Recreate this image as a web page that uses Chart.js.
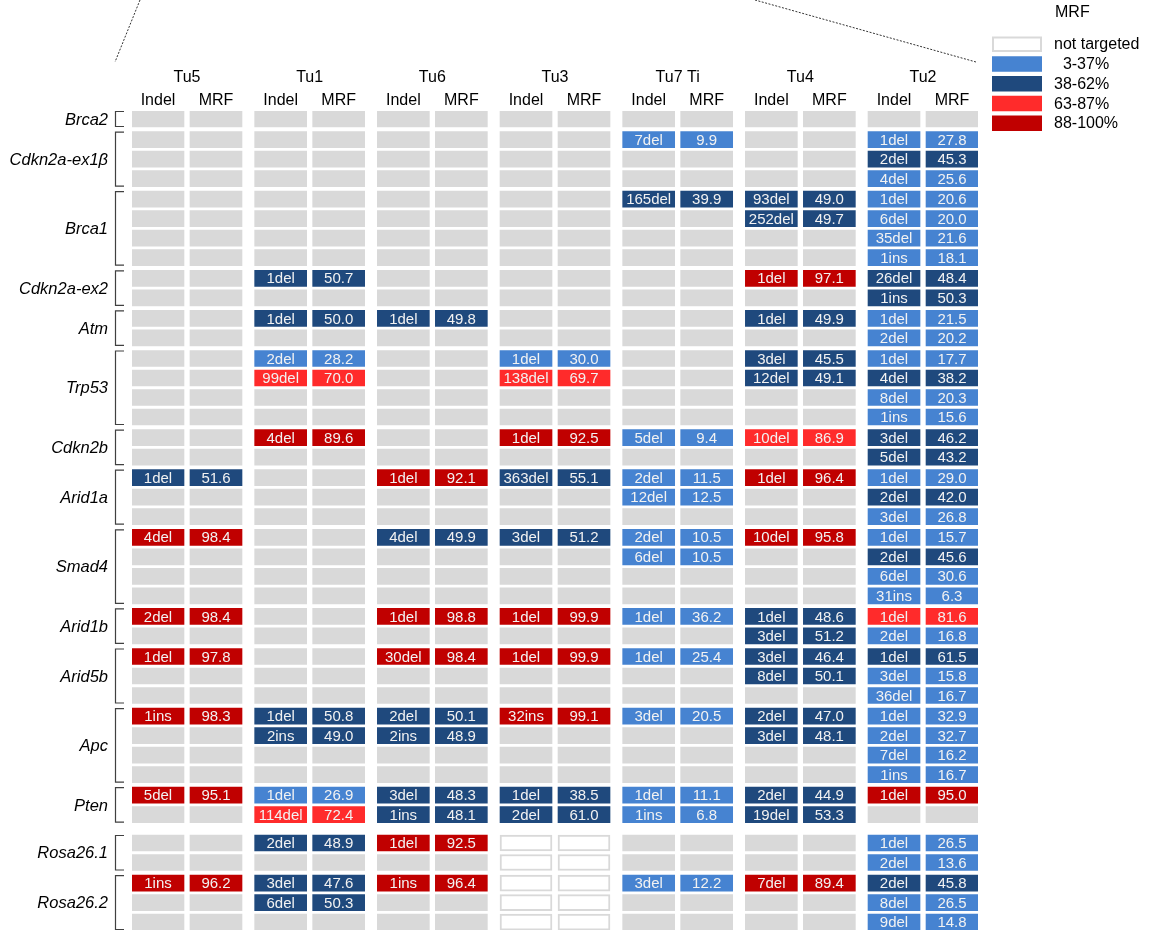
<!DOCTYPE html>
<html>
<head>
<meta charset="utf-8">
<title>Indel / MRF per tumour</title>
<script src="https://cdn.jsdelivr.net/npm/chart.js@4.4.1/dist/chart.umd.min.js"></script>
<style>
  html, body { margin: 0; padding: 0; background: #fff; }
  #chart { display: block; }
</style>
</head>
<body>
<canvas id="chart" width="1155" height="930"></canvas>
<script>
// ---- data ----
const genes = ['Brca2', 'Cdkn2a-ex1β', 'Brca1', 'Cdkn2a-ex2', 'Atm', 'Trp53', 'Cdkn2b', 'Arid1a',
  'Smad4', 'Arid1b', 'Arid5b', 'Apc', 'Pten', 'Rosa26.1', 'Rosa26.2'];
const rowsPerGene = [1, 3, 4, 2, 2, 4, 2, 3, 4, 2, 3, 4, 2, 2, 3];
const tumors = ['Tu5', 'Tu1', 'Tu6', 'Tu3', 'Tu7 Ti', 'Tu4', 'Tu2'];
const subCols = ['Indel', 'MRF'];

// [gene, row within gene, indel, MRF %]
const tu5 = [
  ['Arid1a', 0, '1del', 51.6], ['Smad4', 0, '4del', 98.4], ['Arid1b', 0, '2del', 98.4],
  ['Arid5b', 0, '1del', 97.8], ['Apc', 0, '1ins', 98.3], ['Pten', 0, '5del', 95.1],
  ['Rosa26.2', 0, '1ins', 96.2]
];
const tu1 = [
  ['Cdkn2a-ex2', 0, '1del', 50.7], ['Atm', 0, '1del', 50.0],
  ['Trp53', 0, '2del', 28.2], ['Trp53', 1, '99del', 70.0], ['Cdkn2b', 0, '4del', 89.6],
  ['Apc', 0, '1del', 50.8], ['Apc', 1, '2ins', 49.0],
  ['Pten', 0, '1del', 26.9], ['Pten', 1, '114del', 72.4],
  ['Rosa26.1', 0, '2del', 48.9], ['Rosa26.2', 0, '3del', 47.6], ['Rosa26.2', 1, '6del', 50.3]
];
const tu6 = [
  ['Atm', 0, '1del', 49.8], ['Arid1a', 0, '1del', 92.1], ['Smad4', 0, '4del', 49.9],
  ['Arid1b', 0, '1del', 98.8], ['Arid5b', 0, '30del', 98.4],
  ['Apc', 0, '2del', 50.1], ['Apc', 1, '2ins', 48.9],
  ['Pten', 0, '3del', 48.3], ['Pten', 1, '1ins', 48.1],
  ['Rosa26.1', 0, '1del', 92.5], ['Rosa26.2', 0, '1ins', 96.4]
];
const tu3 = [
  ['Trp53', 0, '1del', 30.0], ['Trp53', 1, '138del', 69.7], ['Cdkn2b', 0, '1del', 92.5],
  ['Arid1a', 0, '363del', 55.1], ['Smad4', 0, '3del', 51.2], ['Arid1b', 0, '1del', 99.9],
  ['Arid5b', 0, '1del', 99.9], ['Apc', 0, '32ins', 99.1],
  ['Pten', 0, '1del', 38.5], ['Pten', 1, '2del', 61.0]
];
const tu7 = [
  ['Cdkn2a-ex1β', 0, '7del', 9.9], ['Brca1', 0, '165del', 39.9], ['Cdkn2b', 0, '5del', 9.4],
  ['Arid1a', 0, '2del', 11.5], ['Arid1a', 1, '12del', 12.5],
  ['Smad4', 0, '2del', 10.5], ['Smad4', 1, '6del', 10.5],
  ['Arid1b', 0, '1del', 36.2], ['Arid5b', 0, '1del', 25.4], ['Apc', 0, '3del', 20.5],
  ['Pten', 0, '1del', 11.1], ['Pten', 1, '1ins', 6.8], ['Rosa26.2', 0, '3del', 12.2]
];
const tu4 = [
  ['Brca1', 0, '93del', 49.0], ['Brca1', 1, '252del', 49.7], ['Cdkn2a-ex2', 0, '1del', 97.1],
  ['Atm', 0, '1del', 49.9], ['Trp53', 0, '3del', 45.5], ['Trp53', 1, '12del', 49.1],
  ['Cdkn2b', 0, '10del', 86.9], ['Arid1a', 0, '1del', 96.4], ['Smad4', 0, '10del', 95.8],
  ['Arid1b', 0, '1del', 48.6], ['Arid1b', 1, '3del', 51.2],
  ['Arid5b', 0, '3del', 46.4], ['Arid5b', 1, '8del', 50.1],
  ['Apc', 0, '2del', 47.0], ['Apc', 1, '3del', 48.1],
  ['Pten', 0, '2del', 44.9], ['Pten', 1, '19del', 53.3], ['Rosa26.2', 0, '7del', 89.4]
];
const tu2 = [
  ['Cdkn2a-ex1β', 0, '1del', 27.8], ['Cdkn2a-ex1β', 1, '2del', 45.3], ['Cdkn2a-ex1β', 2, '4del', 25.6],
  ['Brca1', 0, '1del', 20.6], ['Brca1', 1, '6del', 20.0], ['Brca1', 2, '35del', 21.6], ['Brca1', 3, '1ins', 18.1],
  ['Cdkn2a-ex2', 0, '26del', 48.4], ['Cdkn2a-ex2', 1, '1ins', 50.3],
  ['Atm', 0, '1del', 21.5], ['Atm', 1, '2del', 20.2],
  ['Trp53', 0, '1del', 17.7], ['Trp53', 1, '4del', 38.2], ['Trp53', 2, '8del', 20.3], ['Trp53', 3, '1ins', 15.6],
  ['Cdkn2b', 0, '3del', 46.2], ['Cdkn2b', 1, '5del', 43.2],
  ['Arid1a', 0, '1del', 29.0], ['Arid1a', 1, '2del', 42.0], ['Arid1a', 2, '3del', 26.8],
  ['Smad4', 0, '1del', 15.7], ['Smad4', 1, '2del', 45.6], ['Smad4', 2, '6del', 30.6], ['Smad4', 3, '31ins', 6.3],
  ['Arid1b', 0, '1del', 81.6], ['Arid1b', 1, '2del', 16.8],
  ['Arid5b', 0, '1del', 61.5], ['Arid5b', 1, '3del', 15.8], ['Arid5b', 2, '36del', 16.7],
  ['Apc', 0, '1del', 32.9], ['Apc', 1, '2del', 32.7], ['Apc', 2, '7del', 16.2], ['Apc', 3, '1ins', 16.7],
  ['Pten', 0, '1del', 95.0],
  ['Rosa26.1', 0, '1del', 26.5], ['Rosa26.1', 1, '2del', 13.6],
  ['Rosa26.2', 0, '2del', 45.8], ['Rosa26.2', 1, '8del', 26.5], ['Rosa26.2', 2, '9del', 14.8]
];
const mutationsByTumor = { 'Tu5': tu5, 'Tu1': tu1, 'Tu6': tu6, 'Tu3': tu3, 'Tu7 Ti': tu7, 'Tu4': tu4, 'Tu2': tu2 };
const notTargeted = [['Tu3', 'Rosa26.1'], ['Tu3', 'Rosa26.2']];

const legendTitle = 'MRF';
const legendLabels = ['not targeted', '  3-37%', '38-62%', '63-87%', '88-100%'];
const mrfBinTops = [37.5, 62.5, 87.5];

// ---- look ----
const EMPTY = '#d9d9d9';
const binColors = ['#4683d1', '#1f497d', '#ff2b2b', '#c00000'];
const FONT = '"Liberation Sans", Arial, Helvetica, sans-serif';

const CELL_W = 52;
const SUB_OFFSET = 58;
const TUMOR_PITCH = 122.67;
const CELL_H = 16;
const ROW_PITCH = 19.5;
const GENE_GAP = 1.1;
const SECTION_GAP = 7.7;   // extra space before the Rosa26 controls

function mrfColor(v) {
  for (let i = 0; i < mrfBinTops.length; i++) {
    if (v < mrfBinTops[i]) return binColors[i];
  }
  return binColors[binColors.length - 1];
}

// row centres, in y-scale units
const rowCenters = [];
let pos = CELL_H / 2;
genes.forEach((g, gi) => {
  if (gi > 0) pos += GENE_GAP;
  if (g === 'Rosa26.1') pos += SECTION_GAP;
  rowCenters[gi] = [];
  for (let r = 0; r < rowsPerGene[gi]; r++) {
    rowCenters[gi].push(pos);
    pos += ROW_PITCH;
  }
});

const cells = [], cellBg = [], cellBorder = [], cellBorderW = [], cellText = [];
tumors.forEach((tumor, t) => {
  const muts = mutationsByTumor[tumor];
  genes.forEach((gene, g) => {
    const skipped = notTargeted.some(n => n[0] === tumor && n[1] === gene);
    for (let r = 0; r < rowsPerGene[g]; r++) {
      const m = muts.find(e => e[0] === gene && e[1] === r);
      subCols.forEach((sub, s) => {
        const x0 = t * TUMOR_PITCH + s * SUB_OFFSET;
        cells.push({ x: [x0, x0 + CELL_W], y: rowCenters[g][r] });
        if (skipped) {
          cellBg.push('#ffffff'); cellBorder.push(EMPTY); cellBorderW.push(2); cellText.push('');
        } else if (m) {
          const c = mrfColor(m[3]);
          cellBg.push(c); cellBorder.push(c); cellBorderW.push(0);
          cellText.push(s === 0 ? m[2] : m[3].toFixed(1));
        } else {
          cellBg.push(EMPTY); cellBorder.push(EMPTY); cellBorderW.push(0); cellText.push('');
        }
      });
    }
  });
});

// ---- plugins ----
const cellLabels = {
  id: 'cellLabels',
  afterDatasetsDraw(chart) {
    const ctx = chart.ctx;
    const meta = chart.getDatasetMeta(0);
    ctx.save();
    ctx.font = '15px ' + FONT;
    ctx.fillStyle = '#f2f2f2';
    ctx.textAlign = 'center';
    ctx.textBaseline = 'middle';
    meta.data.forEach((el, i) => {
      if (!cellText[i]) return;
      const p = el.getProps(['x', 'y', 'base'], true);
      ctx.fillText(cellText[i], (p.x + p.base) / 2, p.y + 1);
    });
    ctx.restore();
  }
};

const frame = {
  id: 'frame',
  beforeDraw(chart) {
    // callout lines from the panel above
    const ctx = chart.ctx;
    ctx.save();
    ctx.strokeStyle = '#333';
    ctx.lineWidth = 1;
    ctx.setLineDash([2, 1.5]);
    ctx.beginPath();
    ctx.moveTo(140, 0); ctx.lineTo(115, 62);
    ctx.moveTo(755, 0); ctx.lineTo(976, 62);
    ctx.stroke();
    ctx.restore();
  },
  afterDraw(chart) {
    const ctx = chart.ctx;
    const xs = chart.scales.x, ys = chart.scales.y;
    ctx.save();
    ctx.fillStyle = '#000';
    ctx.textBaseline = 'middle';
    ctx.textAlign = 'center';
    ctx.font = '16px ' + FONT;
    tumors.forEach((tumor, t) => {
      const left = t * TUMOR_PITCH;
      ctx.fillText(tumor, xs.getPixelForValue(left + (SUB_OFFSET + CELL_W) / 2), 78);
      subCols.forEach((sub, s) => {
        ctx.fillText(sub, xs.getPixelForValue(left + s * SUB_OFFSET + CELL_W / 2), 101);
      });
    });

    // gene names and brackets
    ctx.textAlign = 'right';
    ctx.font = 'italic 16.5px ' + FONT;
    ctx.strokeStyle = '#404040';
    ctx.lineWidth = 1.2;
    genes.forEach((gene, g) => {
      const rows = rowCenters[g];
      const top = ys.getPixelForValue(rows[0]) - CELL_H / 2;
      const bottom = ys.getPixelForValue(rows[rows.length - 1]) + CELL_H / 2;
      ctx.fillText(gene, 108, (top + bottom) / 2 + 1);
      ctx.beginPath();
      ctx.moveTo(124, top + 0.5);
      ctx.lineTo(115.5, top + 0.5);
      ctx.lineTo(115.5, bottom - 0.5);
      ctx.lineTo(124, bottom - 0.5);
      ctx.stroke();
    });

    // legend
    ctx.textAlign = 'left';
    ctx.font = '16px ' + FONT;
    ctx.fillText(legendTitle, 1055, 13);
    legendLabels.forEach((label, i) => {
      const top = 36.5 + i * 19.75;
      if (i === 0) {
        ctx.fillStyle = EMPTY;
        ctx.fillRect(992, top, 50, 15.5);
        ctx.fillStyle = '#fff';
        ctx.fillRect(994, top + 2, 46, 11.5);
      } else {
        ctx.fillStyle = binColors[i - 1];
        ctx.fillRect(992, top, 50, 15.5);
      }
      ctx.fillStyle = '#000';
      ctx.fillText(label, 1054, top + 8.5);
    });
    ctx.restore();
  }
};

new Chart(document.getElementById('chart'), {
  type: 'bar',
  data: {
    datasets: [{
      data: cells,
      backgroundColor: cellBg,
      borderColor: cellBorder,
      borderWidth: cellBorderW,
      borderSkipped: false,
      barThickness: CELL_H
    }]
  },
  options: {
    indexAxis: 'y',
    responsive: false,
    animation: false,
    layout: { padding: { left: 132, right: 177, top: 111, bottom: 0 } },
    scales: {
      x: { type: 'linear', display: false, offset: false, min: 0, max: 846 },
      y: { type: 'linear', display: false, offset: false, reverse: true, min: 0, max: 819 }
    },
    plugins: {
      legend: { display: false },
      tooltip: { enabled: false }
    }
  },
  plugins: [cellLabels, frame]
});
</script>
</body>
</html>
